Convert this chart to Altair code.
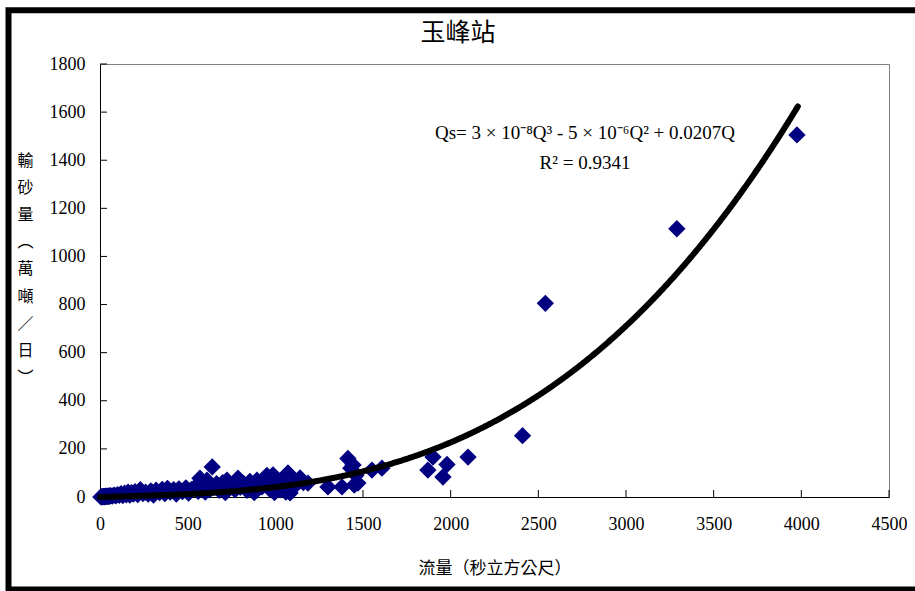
import altair as alt
import pandas as pd

# Observed flow (cms) and sediment load (10^4 t/day) at Yufeng station
flow = [5, 10, 15, 20, 25, 30, 35, 40, 45, 50, 55, 60, 70, 80, 90, 100, 110, 120,
        130, 140, 150, 160, 170, 180, 190, 200, 215, 230, 245, 260, 275, 290, 305,
        320, 340, 355, 370, 385, 400, 420, 435, 450, 470, 490, 505, 520, 540, 560,
        570, 590, 600, 610, 625, 640, 650, 665, 680, 700, 715, 724, 740, 753, 770,
        787, 800, 820, 838, 855, 870, 880, 895, 910, 924, 940, 952, 965, 975, 987,
        995, 1010, 1027, 1045, 1060, 1072, 1084, 1090, 1110, 1141, 1160, 1186,
        1300, 1380, 1414, 1430, 1443, 1450, 1460, 1471, 1551, 1608, 1870, 1899,
        1956, 1979, 2099, 2410, 2540, 3290, 3975]
sediment = [0.5, 1, 1, 2, 1, 3, 2, 4, 2, 5, 3, 6, 4, 8, 5, 10, 7, 14,
            6, 16, 9, 20, 8, 18, 12, 22, 10, 30, 14, 20, 12, 25, 8,
            28, 18, 32, 14, 36, 20, 30, 12, 34, 22, 38, 16, 30, 40, 24,
            78, 45, 20, 70, 30, 125, 40, 55, 28, 60, 18, 70, 45, 50, 30,
            78, 40, 55, 28, 65, 38, 18, 70, 45, 42, 60, 90, 35, 80, 92,
            18, 55, 30, 65, 20, 100, 17, 78, 45, 79, 60, 58,
            42, 42, 160, 120, 133, 50, 90, 58, 112, 120, 112, 166,
            83, 135, 166, 255, 805, 1115, 1505]

# Cubic trend line: Qs = a*Q^3 + b*Q^2 + c*Q
coef_a, coef_b, coef_c = 2.57e-8, -5e-6, 0.0207
q_end = 3980

x_ticks = [0, 500, 1000, 1500, 2000, 2500, 3000, 3500, 4000, 4500]
y_ticks = [0, 200, 400, 600, 800, 1000, 1200, 1400, 1600, 1800]

title_text = "玉峰站"
eq_line = "Qs= 3 × 10⁻⁸Q³ - 5 × 10⁻⁶Q² + 0.0207Q"
r2_line = "R² = 0.9341"
y_title = ["輸", "砂", "量", "︵", "萬", "噸", "／", "日", "︶"]
x_title = "流量（秒立方公尺）"

W, H = 789, 433
CJK = "Noto Sans CJK TC"
SERIF = "Liberation Serif"

x_scale = alt.Scale(domain=[0, 4500], nice=False)
y_scale = alt.Scale(domain=[0, 1800], nice=False)

x_axis = alt.Axis(values=x_ticks, ticks=False, labelPadding=18, format="d",
                  labelFlush=False, title=x_title, titleY=71,
                  titleBaseline="middle", titleFontSize=17)
y_axis = alt.Axis(values=y_ticks, ticks=False, labelPadding=15, format="d",
                  labelFlush=False, title=y_title, titleAngle=0, titleX=-75,
                  titleY=96, titleAlign="center", titleBaseline="middle",
                  titleLineHeight=27.2, titleFontSize=16)

X = alt.X("flow:Q", scale=x_scale, axis=x_axis)
Y = alt.Y("sediment:Q", scale=y_scale, axis=y_axis)

points = pd.DataFrame({"flow": flow, "sediment": sediment})
one_row = pd.DataFrame({"k": [0]})

scatter = alt.Chart(points).mark_point(
    shape="diamond", filled=True, size=300, color="#000080", opacity=1
).encode(x=X, y=Y)

curve = alt.Chart(alt.sequence(0, q_end + 1, 5, as_="flow")).transform_calculate(
    sediment=f"{coef_a}*pow(datum.flow,3) + ({coef_b})*pow(datum.flow,2) + {coef_c}*datum.flow"
).mark_line(color="black", strokeWidth=6, strokeCap="round").encode(x=X, y=Y)

x_tick_marks = alt.Chart(pd.DataFrame({"flow": x_ticks})).mark_rule(
    color="black", strokeWidth=1
).encode(x=X, y=alt.value(H), y2=alt.value(H - 7))

y_tick_marks = alt.Chart(pd.DataFrame({"sediment": y_ticks})).mark_rule(
    color="black", strokeWidth=1
).encode(y=Y, x=alt.value(0), x2=alt.value(7))


def label(text, x, y, font, size):
    return alt.Chart(one_row).mark_text(
        text=text, font=font, fontSize=size, color="black",
        align="center", baseline="middle"
    ).encode(x=alt.value(x), y=alt.value(y))


eq_text = label(eq_line, 485, 69, SERIF, 19)
r2_text = label(r2_line, 485, 99, SERIF, 19)
title_mark = label(title_text, 358, -31, CJK, 25)

frame = alt.Chart(one_row).mark_rect(
    fill=None, stroke="black", strokeWidth=6
).encode(x=alt.value(-91.5), x2=alt.value(830), y=alt.value(-53.7), y2=alt.value(525.5))

chart = alt.layer(
    frame, x_tick_marks, y_tick_marks, scatter, curve, eq_text, r2_text, title_mark
).properties(
    width=W, height=H,
    padding={"left": 100, "top": 64, "right": 26, "bottom": 94},
    autosize=alt.AutoSizeParams(type="none"),
).configure_view(
    stroke="#808080", strokeWidth=1
).configure_axis(
    grid=False, domainColor="black", domainWidth=1,
    labelFont=SERIF, labelFontSize=18, labelColor="black",
    titleFont=CJK, titleFontWeight="normal", titleColor="black",
)

chart.save("out.html", embed_options={"renderer": "svg", "actions": False})
